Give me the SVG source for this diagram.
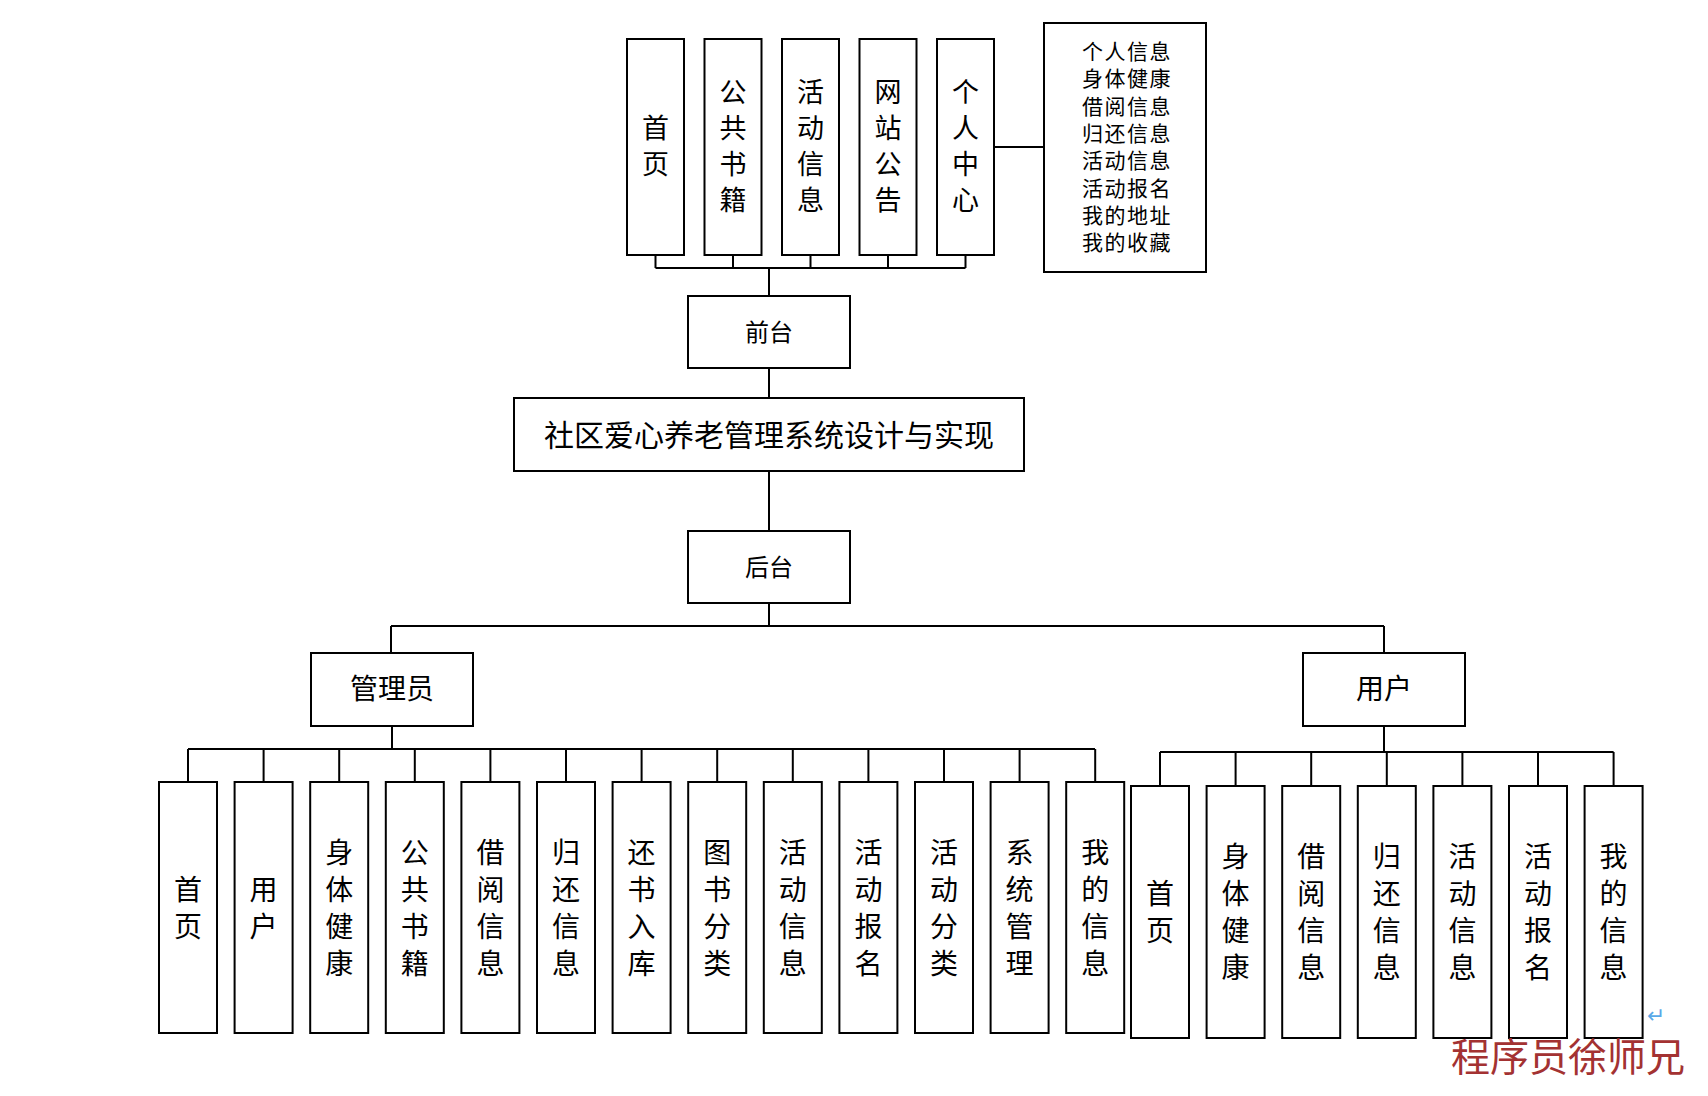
<svg xmlns="http://www.w3.org/2000/svg" width="1708" height="1096" viewBox="0 0 1708 1096">
<style>
.b{fill:#fff;stroke:#000;stroke-width:2}
.t{font-family:"Noto Sans CJK SC","Noto Sans CJK JP",sans-serif;fill:#000;text-anchor:middle;dominant-baseline:central}
.v{font-size:27px}
.w{font-size:28px}
.c{stroke:#000;stroke-width:2;fill:none}
</style>
<rect width="1708" height="1096" fill="#fff"/>
<g id="connectors" class="c">
<path d="M655.5 255V268M733 255V268M810.5 255V268M888 255V268M965.5 255V268M655.5 268H965.5M769 268V296"/>
<path d="M994 147H1044"/>
<path d="M769 368V398M769 471V531M769 603V626M391 626H1384M391 626V653M1384 626V653"/>
<path d="M392 726V749M188 749H1095"/>
<path d="M188 749V782M263.6 749V782M339.2 749V782M414.8 749V782M490.4 749V782M566 749V782M641.6 749V782M717.2 749V782M792.8 749V782M868.4 749V782M944 749V782M1019.6 749V782M1095.2 749V782"/>
<path d="M1384 726V752M1160 752H1613.6"/>
<path d="M1160 752V786M1235.6 752V786M1311.2 752V786M1386.8 752V786M1462.4 752V786M1538 752V786M1613.6 752V786"/>
</g>
<g id="top-shouye"><rect class="b" x="627" y="39" width="57" height="216"/><text class="t v"><tspan x="655.5" y="126">首</tspan><tspan x="655.5" y="162">页</tspan></text></g>
<g id="top-gongshu"><rect class="b" x="704.5" y="39" width="57" height="216"/><text class="t v"><tspan x="733" y="90">公</tspan><tspan x="733" y="126">共</tspan><tspan x="733" y="162">书</tspan><tspan x="733" y="198">籍</tspan></text></g>
<g id="top-huodong"><rect class="b" x="782" y="39" width="57" height="216"/><text class="t v"><tspan x="810.5" y="90">活</tspan><tspan x="810.5" y="126">动</tspan><tspan x="810.5" y="162">信</tspan><tspan x="810.5" y="198">息</tspan></text></g>
<g id="top-gonggao"><rect class="b" x="859.5" y="39" width="57" height="216"/><text class="t v"><tspan x="888" y="90">网</tspan><tspan x="888" y="126">站</tspan><tspan x="888" y="162">公</tspan><tspan x="888" y="198">告</tspan></text></g>
<g id="top-geren"><rect class="b" x="937" y="39" width="57" height="216"/><text class="t v"><tspan x="965.5" y="90">个</tspan><tspan x="965.5" y="126">人</tspan><tspan x="965.5" y="162">中</tspan><tspan x="965.5" y="198">心</tspan></text></g>
<g id="geren-list"><rect class="b" x="1044" y="23" width="162" height="249"/><text class="t" style="font-size:21px;letter-spacing:1.5px"><tspan x="1127" y="50">个人信息</tspan><tspan x="1127" y="77.3">身体健康</tspan><tspan x="1127" y="104.6">借阅信息</tspan><tspan x="1127" y="131.9">归还信息</tspan><tspan x="1127" y="159.2">活动信息</tspan><tspan x="1127" y="186.5">活动报名</tspan><tspan x="1127" y="213.8">我的地址</tspan><tspan x="1127" y="241.1">我的收藏</tspan></text></g>
<g id="qiantai"><rect class="b" x="688" y="296" width="162" height="72"/><text class="t" style="font-size:24px" x="769" y="330">前台</text></g>
<g id="title"><rect class="b" x="514" y="398" width="510" height="73"/><text class="t" style="font-size:30px" x="769" y="433">社区爱心养老管理系统设计与实现</text></g>
<g id="houtai"><rect class="b" x="688" y="531" width="162" height="72"/><text class="t" style="font-size:24px" x="769" y="565">后台</text></g>
<g id="admin"><rect class="b" x="311" y="653" width="162" height="73"/><text class="t" style="font-size:28px" x="392" y="687">管理员</text></g>
<g id="user"><rect class="b" x="1303" y="653" width="162" height="73"/><text class="t" style="font-size:28px" x="1384" y="687">用户</text></g>
<g id="a1"><rect class="b" x="159" y="782" width="58" height="251"/><text class="t w"><tspan x="188" y="888">首</tspan><tspan x="188" y="925">页</tspan></text></g>
<g id="a2"><rect class="b" x="234.6" y="782" width="58" height="251"/><text class="t w"><tspan x="263.6" y="888">用</tspan><tspan x="263.6" y="925">户</tspan></text></g>
<g id="a3"><rect class="b" x="310.2" y="782" width="58" height="251"/><text class="t w"><tspan x="339.2" y="851">身</tspan><tspan x="339.2" y="888">体</tspan><tspan x="339.2" y="925">健</tspan><tspan x="339.2" y="962">康</tspan></text></g>
<g id="a4"><rect class="b" x="385.8" y="782" width="58" height="251"/><text class="t w"><tspan x="414.8" y="851">公</tspan><tspan x="414.8" y="888">共</tspan><tspan x="414.8" y="925">书</tspan><tspan x="414.8" y="962">籍</tspan></text></g>
<g id="a5"><rect class="b" x="461.4" y="782" width="58" height="251"/><text class="t w"><tspan x="490.4" y="851">借</tspan><tspan x="490.4" y="888">阅</tspan><tspan x="490.4" y="925">信</tspan><tspan x="490.4" y="962">息</tspan></text></g>
<g id="a6"><rect class="b" x="537" y="782" width="58" height="251"/><text class="t w"><tspan x="566" y="851">归</tspan><tspan x="566" y="888">还</tspan><tspan x="566" y="925">信</tspan><tspan x="566" y="962">息</tspan></text></g>
<g id="a7"><rect class="b" x="612.6" y="782" width="58" height="251"/><text class="t w"><tspan x="641.6" y="851">还</tspan><tspan x="641.6" y="888">书</tspan><tspan x="641.6" y="925">入</tspan><tspan x="641.6" y="962">库</tspan></text></g>
<g id="a8"><rect class="b" x="688.2" y="782" width="58" height="251"/><text class="t w"><tspan x="717.2" y="851">图</tspan><tspan x="717.2" y="888">书</tspan><tspan x="717.2" y="925">分</tspan><tspan x="717.2" y="962">类</tspan></text></g>
<g id="a9"><rect class="b" x="763.8" y="782" width="58" height="251"/><text class="t w"><tspan x="792.8" y="851">活</tspan><tspan x="792.8" y="888">动</tspan><tspan x="792.8" y="925">信</tspan><tspan x="792.8" y="962">息</tspan></text></g>
<g id="a10"><rect class="b" x="839.4" y="782" width="58" height="251"/><text class="t w"><tspan x="868.4" y="851">活</tspan><tspan x="868.4" y="888">动</tspan><tspan x="868.4" y="925">报</tspan><tspan x="868.4" y="962">名</tspan></text></g>
<g id="a11"><rect class="b" x="915" y="782" width="58" height="251"/><text class="t w"><tspan x="944" y="851">活</tspan><tspan x="944" y="888">动</tspan><tspan x="944" y="925">分</tspan><tspan x="944" y="962">类</tspan></text></g>
<g id="a12"><rect class="b" x="990.6" y="782" width="58" height="251"/><text class="t w"><tspan x="1019.6" y="851">系</tspan><tspan x="1019.6" y="888">统</tspan><tspan x="1019.6" y="925">管</tspan><tspan x="1019.6" y="962">理</tspan></text></g>
<g id="a13"><rect class="b" x="1066.2" y="782" width="58" height="251"/><text class="t w"><tspan x="1095.2" y="851">我</tspan><tspan x="1095.2" y="888">的</tspan><tspan x="1095.2" y="925">信</tspan><tspan x="1095.2" y="962">息</tspan></text></g>
<g id="u1"><rect class="b" x="1131" y="786" width="58" height="252"/><text class="t w"><tspan x="1160" y="892">首</tspan><tspan x="1160" y="929">页</tspan></text></g>
<g id="u2"><rect class="b" x="1206.6" y="786" width="58" height="252"/><text class="t w"><tspan x="1235.6" y="855">身</tspan><tspan x="1235.6" y="892">体</tspan><tspan x="1235.6" y="929">健</tspan><tspan x="1235.6" y="966">康</tspan></text></g>
<g id="u3"><rect class="b" x="1282.2" y="786" width="58" height="252"/><text class="t w"><tspan x="1311.2" y="855">借</tspan><tspan x="1311.2" y="892">阅</tspan><tspan x="1311.2" y="929">信</tspan><tspan x="1311.2" y="966">息</tspan></text></g>
<g id="u4"><rect class="b" x="1357.8" y="786" width="58" height="252"/><text class="t w"><tspan x="1386.8" y="855">归</tspan><tspan x="1386.8" y="892">还</tspan><tspan x="1386.8" y="929">信</tspan><tspan x="1386.8" y="966">息</tspan></text></g>
<g id="u5"><rect class="b" x="1433.4" y="786" width="58" height="252"/><text class="t w"><tspan x="1462.4" y="855">活</tspan><tspan x="1462.4" y="892">动</tspan><tspan x="1462.4" y="929">信</tspan><tspan x="1462.4" y="966">息</tspan></text></g>
<g id="u6"><rect class="b" x="1509" y="786" width="58" height="252"/><text class="t w"><tspan x="1538" y="855">活</tspan><tspan x="1538" y="892">动</tspan><tspan x="1538" y="929">报</tspan><tspan x="1538" y="966">名</tspan></text></g>
<g id="u7"><rect class="b" x="1584.6" y="786" width="58" height="252"/><text class="t w"><tspan x="1613.6" y="855">我</tspan><tspan x="1613.6" y="892">的</tspan><tspan x="1613.6" y="929">信</tspan><tspan x="1613.6" y="966">息</tspan></text></g>
<text x="1656" y="1015" style="font-family:'DejaVu Sans',sans-serif;font-size:22px;fill:#5aa8e8;text-anchor:middle;dominant-baseline:central">↵</text>
<text x="1568" y="1054" style="font-family:'Noto Sans CJK SC',serif;font-size:39px;fill:#a33232;text-anchor:middle;dominant-baseline:central">程序员徐师兄</text>
</svg>
